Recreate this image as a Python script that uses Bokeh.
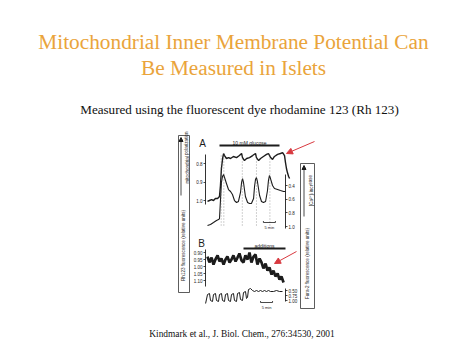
from bokeh.plotting import figure
from bokeh.models import (Range1d, LinearAxis, FixedTicker, NumeralTickFormatter,
                          Arrow, NormalHead)
from bokeh.core.properties import value
from bokeh.embed import file_html
from bokeh.resources import INLINE

W, H = 474, 355

# ---------------- data ----------------
title_lines = ["Mitochondrial Inner Membrane Potential Can", "Be Measured in Islets"]
subtitle = "Measured using the fluorescent dye rhodamine 123 (Rh 123)"
citation = "Kindmark et al., J. Biol. Chem., 276:34530, 2001"

# Panel A : Rh123 (mitochondrial polarisation), time in min
a_rh_t = [0.0, 0.8, 1.7, 2.5, 3.3, 4.2, 5.0, 5.4, 5.8, 6.3, 6.7, 7.1, 7.9, 8.8, 9.6,
          10.8, 12.1, 13.3, 14.2, 14.6, 15.4, 16.3, 17.5, 18.8, 20.0, 20.4, 21.3,
          22.1, 23.3, 24.6, 25.4, 26.3, 27.1, 27.9, 29.2, 30.4, 31.3, 32.1, 32.5,
          32.9, 33.3, 33.8, 34.2]
a_rh_v = [1.005, 1.000, 0.995, 1.000, 0.989, 0.989, 0.978, 0.919, 0.827, 0.773, 0.746,
          0.757, 0.773, 0.768, 0.773, 0.762, 0.768, 0.757, 0.746, 0.768, 0.784, 0.773,
          0.768, 0.757, 0.746, 0.768, 0.784, 0.773, 0.762, 0.751, 0.746, 0.768, 0.778,
          0.762, 0.751, 0.746, 0.741, 0.757, 0.795, 0.827, 0.849, 0.870, 0.881]
# Panel A : Fura-2 ([Ca2+]i)
a_fu_t = [0.0, 1.25, 2.5, 3.75, 4.6, 5.0, 5.4, 5.8, 6.25, 6.7, 7.1, 7.9, 8.75, 9.6,
          10.4, 11.25, 12.1, 12.9, 13.75, 14.2, 14.6, 15.0, 15.8, 16.7, 17.5, 18.3,
          19.2, 19.6, 20.0, 20.4, 20.8, 21.7, 22.5, 23.3, 24.2, 25.0, 25.4, 25.8,
          26.25, 27.1, 27.9, 29.2, 30.4, 31.7, 32.5]
a_fu_v = [0.986, 0.971, 0.942, 0.912, 0.898, 0.883, 0.620, 0.356, 0.268, 0.239, 0.283,
          0.371, 0.459, 0.488, 0.532, 0.620, 0.649, 0.634, 0.502, 0.356, 0.298, 0.356,
          0.561, 0.649, 0.664, 0.664, 0.590, 0.415, 0.312, 0.283, 0.341, 0.546, 0.634,
          0.649, 0.634, 0.473, 0.327, 0.254, 0.298, 0.400, 0.444, 0.459, 0.473, 0.488,
          0.488]
a_dotted_t = [5.7, 6.8, 14.5, 20.4, 26.0]
a_glucose = [5.0, 30.0]
a_rh_ticks = [0.8, 0.9, 1.0]
a_fu_ticks = [0.4, 0.6, 0.8, 1.0]

# Panel B : Rh123
b_rh_t = [0.0, 0.8, 1.7, 2.5, 3.3, 4.2, 5.0, 5.8, 6.7, 7.5, 8.3, 9.2, 10.0, 10.8, 11.7,
          12.5, 13.3, 14.2, 15.0, 15.8, 16.7, 17.5, 18.3, 19.2, 20.0, 20.8, 21.7, 22.5,
          23.3, 24.2, 25.0, 25.8, 26.7, 27.5, 28.3, 29.2, 30.0, 30.8, 31.7]
b_rh_v = [0.929, 0.971, 0.936, 0.986, 0.950, 0.921, 0.964, 0.943, 0.986, 0.950, 0.929,
          0.971, 0.950, 0.921, 0.964, 0.936, 0.907, 0.957, 0.971, 0.921, 0.950, 0.900,
          0.971, 0.929, 0.914, 0.986, 0.943, 0.971, 1.014, 0.979, 1.029, 1.007, 1.057,
          1.029, 1.071, 1.050, 1.093, 1.071, 1.114]
# Panel B : Fura-2
b_fu_t = [-0.8, 0.0, 0.83, 1.25, 2.08, 2.5, 3.33, 3.75, 4.58, 5.0, 5.83, 6.25, 7.08, 7.5,
          8.33, 8.75, 9.58, 10.0, 10.83, 11.25, 12.08, 12.5, 13.33, 13.75, 14.58, 15.0,
          15.83, 16.25, 16.67, 17.08, 17.92, 18.75, 19.58, 20.42, 21.25, 22.08, 22.92,
          23.75, 24.58, 25.42, 26.25, 27.5, 28.75, 30.0, 31.25]
b_fu_v = [1.15, 0.70, 0.65, 1.00, 1.05, 0.70, 0.65, 1.00, 1.05, 0.70, 0.65, 1.00, 1.05,
          0.70, 0.65, 1.00, 1.05, 0.70, 0.65, 1.00, 1.05, 0.65, 0.60, 0.95, 1.00, 0.60,
          0.55, 0.90, 0.85, 0.45, 0.40, 0.50, 0.55, 0.50, 0.55, 0.50, 0.55, 0.50, 0.55,
          0.50, 0.55, 0.55, 0.50, 0.55, 0.55]
b_additions = [15.0, 32.5]
b_rh_ticks = [0.90, 0.95, 1.00, 1.05, 1.10]
b_fu_ticks = [0.50, 0.75, 1.00]
scale_bar_min = 5.0

# ---------------- layout helpers (pixel anchors -> library ranges) ----------------
def xr(a, pa, b, pb):
    k = (b - a) / (pb - pa)
    s = a - pa * k
    return Range1d(start=s, end=s + W * k)

def yr(a, pa, b, pb):
    k = (b - a) / (pb - pa)
    top = a - pa * k
    bottom = a + (H - pa) * k
    return Range1d(start=bottom, end=top)

p = figure(width=W, height=H, x_range=Range1d(0, W), y_range=Range1d(H, 0),
           output_backend="svg", toolbar_location=None,
           x_axis_location=None, y_axis_location=None,
           min_border=0, outline_line_color=None, background_fill_color="white")
p.grid.visible = False

p.extra_x_ranges = {"tA": xr(0, 207, 5, 219), "tB": xr(0, 207, 5, 219)}
p.extra_y_ranges = {"rhA": yr(0.8, 163, 1.0, 200), "fuA": yr(0.4, 185, 1.0, 226),
                    "rhB": yr(0.90, 252, 1.10, 280), "fuB": yr(0.50, 290, 1.00, 300)}

INK = "#1c1c1c"
SANS = value("Liberation Sans")
SERIF = value("Liberation Serif")

# ---------------- slide texts ----------------
p.text(x=[233, 233], y=[41, 67], text=title_lines, text_font=SERIF,
       text_font_size="21.3px", text_color="#EAA43B", text_align="center",
       text_baseline="alphabetic")
p.text(x=[239], y=[108.5], text=[subtitle], text_font=SERIF, text_font_size="13.1px",
       text_color="#111111", text_align="center", text_baseline="alphabetic")
p.text(x=[241.5], y=[333], text=[citation], text_font=SERIF, text_font_size="9.4px",
       text_color="#111111", text_align="center", text_baseline="alphabetic")

# ---------------- traces ----------------
p.line(a_rh_t, a_rh_v, x_range_name="tA", y_range_name="rhA", line_color=INK, line_width=1.4)
p.line(a_fu_t, a_fu_v, x_range_name="tA", y_range_name="fuA", line_color=INK, line_width=1.1)
p.line(b_rh_t, b_rh_v, x_range_name="tB", y_range_name="rhB", line_color=INK, line_width=2.7)
p.line(b_fu_t, b_fu_v, x_range_name="tB", y_range_name="fuB", line_color=INK, line_width=1.0)

# dotted guide lines (panel A)
p.segment(x0=a_dotted_t, x1=a_dotted_t, y0=[155] * len(a_dotted_t), y1=[226] * len(a_dotted_t),
          x_range_name="tA", line_color="#666666", line_width=0.6, line_dash="1 2")

# stimulus bars
p.segment(x0=[a_glucose[0]], x1=[a_glucose[1]], y0=[145], y1=[145], x_range_name="tA",
          line_color=INK, line_width=2)
p.text(x=[sum(a_glucose) / 2], y=[142], text=["10 mM glucose"], x_range_name="tA",
       text_font=SANS, text_font_size="5px", text_color=INK, text_align="center",
       text_baseline="alphabetic")
p.segment(x0=[b_additions[0]], x1=[b_additions[1]], y0=[248], y1=[248], x_range_name="tB",
          line_color=INK, line_width=2)
p.text(x=[sum(b_additions) / 2], y=[245], text=["additions"], x_range_name="tB",
       text_font=SANS, text_font_size="5px", text_color=INK, text_align="center",
       text_baseline="alphabetic")

# scale bars
for rng, t0, yb in (("tA", 23.3, 222), ("tB", 22.1, 302)):
    p.segment(x0=[t0], x1=[t0 + scale_bar_min], y0=[yb], y1=[yb], x_range_name=rng,
              line_color=INK, line_width=0.8)
    p.segment(x0=[t0, t0 + scale_bar_min], x1=[t0, t0 + scale_bar_min], y0=[yb - 1.5, yb - 1.5],
              y1=[yb, yb], x_range_name=rng, line_color=INK, line_width=0.8)
    p.text(x=[t0 + scale_bar_min / 2], y=[yb + 5], text=["5 min"], x_range_name=rng,
           text_font=SANS, text_font_size="4px", text_color=INK, text_align="center",
           text_baseline="alphabetic")

# ---------------- axes ----------------
def add_axis(side, rng, loc, bounds, ticks, fmt):
    ax = LinearAxis(y_range_name=rng, fixed_location=loc, bounds=bounds,
                    ticker=FixedTicker(ticks=ticks, minor_ticks=[]),
                    formatter=NumeralTickFormatter(format=fmt),
                    major_label_text_font_size="4.5px", major_label_text_font="Liberation Sans",
                    major_label_text_color=INK, major_label_standoff=1,
                    major_tick_out=2, major_tick_in=0, minor_tick_out=0, minor_tick_in=0,
                    axis_line_color=INK, axis_line_width=0.9, major_tick_line_color=INK,
                    major_tick_line_width=0.8)
    p.add_layout(ax, side)

add_axis("left", "rhA", 205, (0.75, 1.02), a_rh_ticks, "0.0")
add_axis("right", "fuA", 285, (0.24, 1.03), a_fu_ticks, "0.0")
add_axis("left", "rhB", 205, (0.88, 1.14), b_rh_ticks, "0.00")
add_axis("right", "fuB", 285, (0.40, 1.05), b_fu_ticks, "0.00")

# panel letters
p.text(x=[202, 201], y=[143, 243], text=["A", "B"], text_font=SANS, text_font_size="10px",
       text_color=INK, text_align="center", text_baseline="middle")

# ---------------- side label boxes ----------------
p.quad(left=[178, 300], right=[189, 314], top=[135, 163], bottom=[292, 308],
       fill_color=None, line_color="#333333", line_width=0.8)
p.add_layout(Arrow(end=NormalHead(size=4, fill_color=INK, line_color=INK),
                   x_start=180.5, y_start=195, x_end=180.5, y_end=137,
                   line_color=INK, line_width=0.8))
p.add_layout(Arrow(end=NormalHead(size=4, fill_color=INK, line_color=INK),
                   x_start=303.5, y_start=216, x_end=303.5, y_end=165,
                   line_color=INK, line_width=0.8))
p.text(x=[183, 186.5], y=[245, 157],
       text=["Rh123 fluorescence (relative units)", "mitochondrial polarization"],
       angle=1.5708, text_font=SANS, text_font_size="4.6px", text_color=INK,
       text_align="center", text_baseline="middle")
p.text(x=[307, 310.5], y=[263, 190],
       text=["Fura-2 fluorescence (relative units)", "[Ca²⁺]ᵢ increase"],
       angle=1.5708, text_font=SANS, text_font_size="4.6px", text_color=INK,
       text_align="center", text_baseline="middle")

# ---------------- red arrows ----------------
RED = "#D8393F"
for xs, ys, xe, ye in ((314, 141, 286, 153), (296, 251, 274, 263)):
    p.add_layout(Arrow(end=NormalHead(size=6, fill_color=RED, line_color=RED),
                       x_start=xs, y_start=ys, x_end=xe, y_end=ye,
                       line_color=RED, line_width=1))

open("out.html", "w").write(file_html(p, INLINE))
